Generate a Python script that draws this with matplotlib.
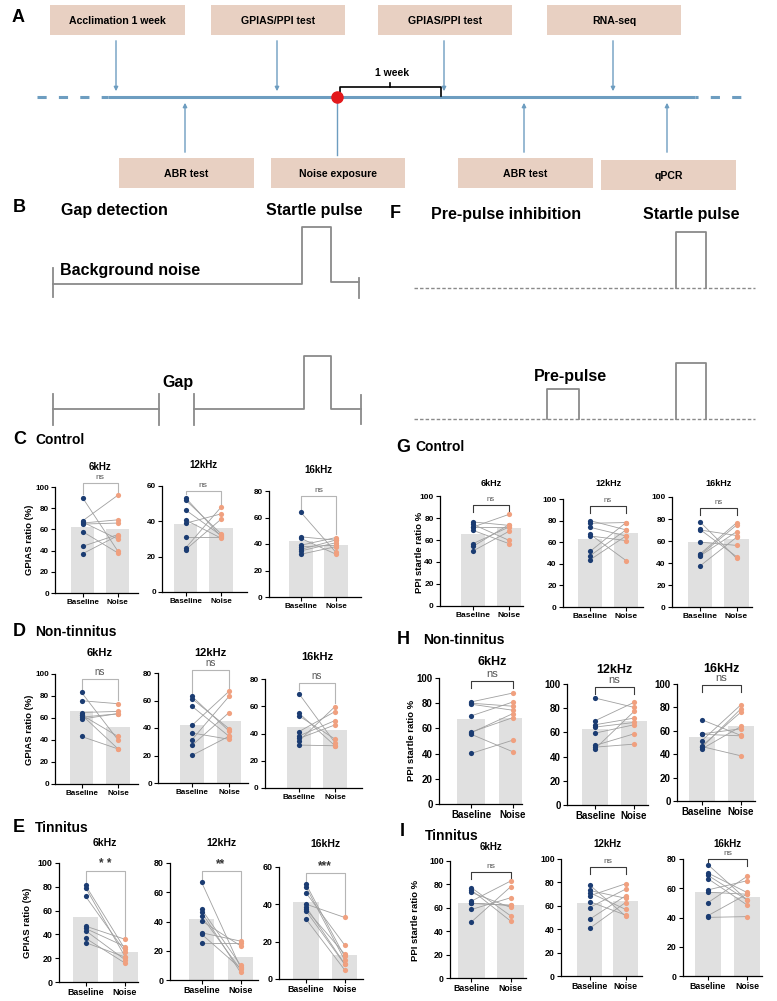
import numpy as np
import matplotlib
matplotlib.use("Agg")
import matplotlib.pyplot as plt
from matplotlib.patches import Rectangle

plt.rcParams['font.family'] = ['Liberation Sans', 'DejaVu Sans']

# ---------------- data ----------------
groups = ['Baseline', 'Noise']
freqs = ['6kHz', '12kHz', '16kHz']

# C  Control (GPIAS)
C_base = [[90, 68, 67, 66, 65, 58, 44, 37],
          [53.4, 52.1, 46.5, 40.8, 38.9, 31.4, 24.8, 23.9],
          [63.8, 45.4, 44.2, 39.1, 37.9, 34.8, 32.3, 36]]
C_noise = [[40, 92, 51, 69, 66, 38, 55, 54],
           [31.5, 33, 32, 30.5, 44.2, 31.4, 48, 41.2],
           [33.6, 42.9, 32.3, 44.9, 39.1, 41, 38, 43]]
C_bars = [[62, 60], [38.4, 36.5], [42.4, 39.1]]
C_sig = ['ns', 'ns', 'ns']

# D  Non-tinnitus (GPIAS)
D_base = [[83.3, 75.7, 65, 62.9, 60.8, 59, 43.2, 63],
          [63, 61.3, 55.8, 41.9, 36.4, 31.5, 27.4, 20.1],
          [69.2, 54.9, 52.9, 41.4, 38.2, 36.4, 34.5, 31.5]]
D_noise = [[40.1, 73, 66, 43.2, 63.8, 64, 31.9, 32],
           [37.8, 39.5, 34, 66.7, 31.8, 63, 51.2, 34],
           [33.2, 31, 35.9, 56.1, 49.5, 46.3, 59.8, 31]]
D_bars = [[66, 51.4], [41.9, 44.8], [44.6, 42.6]]
D_sig = ['ns', 'ns', 'ns']

# E  Tinnitus (GPIAS)
E_base = [[81.3, 79.4, 72.1, 47, 45, 43.2, 36.8, 33.1],
          [67, 48.4, 46.6, 43.6, 40.5, 32.3, 31.4, 25.5],
          [50.8, 49.3, 46.2, 40.1, 38.7, 37.3, 32.1, 36.5]]
E_noise = [[27.6, 21.4, 25.6, 35.9, 29.8, 18.7, 15.9, 21],
           [8.6, 10.2, 5.2, 7.3, 23.4, 26.6, 8, 25.5],
           [12.1, 10.3, 18.3, 33, 8.2, 13.5, 5, 8]]
E_bars = [[54.3, 25.1], [42, 15.9], [41.4, 13]]
E_sig = ['* *', '**', '***']

# G  Control (PPI)
G_base = [[76.4, 74.2, 71.8, 68.8, 56.7, 54.2, 50, 72],
          [80, 77.5, 73.8, 67.4, 65.8, 51.4, 47.4, 43.7],
          [77.4, 70.5, 59, 48.2, 46.4, 37.3, 47, 70]]
G_noise = [[73.3, 59.7, 83.3, 56.7, 71.8, 74, 67.9, 72],
           [71.4, 78.2, 65.8, 43, 61.5, 78.2, 71.4, 65.8],
           [44.3, 45.8, 56, 76.5, 68.4, 63.3, 74.4, 65]]
G_bars = [[65.8, 70.9], [63, 68.3], [59.3, 61.7]]
G_sig = ['ns', 'ns', 'ns']

# H  Non-tinnitus (PPI)
H_base = [[81, 79.2, 80, 69.9, 56.5, 55.4, 40.1, 57],
          [88.4, 69.6, 66.3, 64.4, 59.4, 49.2, 47.8, 46.4],
          [69.4, 57.4, 51.7, 47.1, 46, 44.6, 46.5, 57]]
H_noise = [[88.1, 74.4, 77.6, 81, 71.8, 41.4, 50.7, 68.6],
           [80.7, 84.8, 71.8, 68.2, 66.3, 58.8, 50.3, 77.3],
           [56, 61.7, 82.3, 76, 78.9, 63.7, 38.6, 55.7]]
H_bars = [[67.3, 68.3], [63, 69.6], [54.3, 63.7]]
H_sig = ['ns', 'ns', 'ns']

# I  Tinnitus (PPI)
I_base = [[77.1, 75.1, 73.1, 65.7, 63.7, 58.6, 48, 64],
          [77.9, 73.1, 71.3, 68.5, 63.6, 58.5, 48.4, 40.7],
          [76.1, 70.4, 68.8, 66.5, 58.9, 57.3, 50.2, 41.3, 40.1]]
I_noise = [[53.1, 48.6, 60.3, 82.9, 62.3, 68.6, 78, 62],
           [51.3, 66.5, 57, 78.8, 52.1, 74.2, 68.5, 62.8],
           [52, 57.1, 52, 48.6, 65.1, 55.9, 68.1, 56, 40.6]]
I_bars = [[64.3, 62.3], [62.8, 64.5], [57.3, 54.3]]
I_sig = ['ns', 'ns', 'ns']

ymaxes = {'C': [100, 60, 80], 'D': [100, 80, 80], 'E': [100, 80, 60],
          'G': [100, 100, 100], 'H': [100, 100, 100], 'I': [100, 100, 80]}

# timeline (panel A)
top_steps = ['Acclimation 1 week', 'GPIAS/PPI test', 'GPIAS/PPI test', 'RNA-seq']
bottom_steps = ['ABR test', 'Noise exposure', 'ABR test', 'qPCR']

# ---------------- styles ----------------
W, H = 777, 1001
fig = plt.figure(figsize=(W / 100, H / 100), dpi=100)

bar_c = '#e0e0e0'
base_c = '#1b3c72'
noise_c = '#f0a07f'
link_c = '#a0a0a0'
tl_c = '#6d9dc0'
box_c = '#e8d0c2'
sch_c = '#8a8a8a'

ov = fig.add_axes([0, 0, 1, 1])
ov.set_xlim(0, W)
ov.set_ylim(H, 0)
ov.axis('off')

# ---- panel A ----
ov.text(12, 17, 'A', fontsize=13, fontweight='bold', va='center')
top_x = [(50, 185), (211, 345), (378, 512), (547, 681)]
bot_x = [(119, 254), (271, 405), (458, 593), (601, 736)]
for (x0, x1), s in zip(top_x, top_steps):
    ov.add_patch(Rectangle((x0, 5), x1 - x0, 30, color=box_c, lw=0))
    ov.text((x0 + x1) / 2, 21, s, ha='center', va='center', fontsize=7.6, fontweight='bold')
    xa = x0 + 66
    ov.annotate('', xy=(xa, 94), xytext=(xa, 38),
                arrowprops=dict(arrowstyle='-|>', color=tl_c, lw=1, mutation_scale=6))
for i, ((x0, x1), s) in enumerate(zip(bot_x, bottom_steps)):
    yb = 158 if i < 3 else 160
    ov.add_patch(Rectangle((x0, yb), x1 - x0, 30, color=box_c, lw=0))
    ov.text((x0 + x1) / 2, yb + 16, s, ha='center', va='center', fontsize=7.6, fontweight='bold')
    xa = x0 + 66
    if i == 1:
        ov.plot([xa, xa], [155, 99], color=tl_c, lw=1)
    else:
        ov.annotate('', xy=(xa, 100), xytext=(xa, 155),
                    arrowprops=dict(arrowstyle='-|>', color=tl_c, lw=1, mutation_scale=6))
ov.plot([108, 695], [97, 97], color=tl_c, lw=2.2, solid_capstyle='butt')
ov.plot([37, 108], [97, 97], color=tl_c, lw=2.2, ls=(0, (3, 4)))
ov.plot([695, 748], [97, 97], color=tl_c, lw=2.2, ls=(2, (3, 4)))
ov.plot([337], [97], 'o', color='#e3191c', ms=8, zorder=5)
ov.plot([340, 340, 441, 441], [96, 87, 87, 96], color='k', lw=1.2)
ov.plot([390, 390], [87, 83], color='k', lw=1.2)
ov.text(392, 73, '1 week', ha='center', va='center', fontsize=7.5, fontweight='bold')

# ---- panel B ----
ov.text(13, 207, 'B', fontsize=13, fontweight='bold', va='center')
ov.text(61, 211, 'Gap detection', fontsize=11.5, fontweight='bold', va='center')
ov.text(266, 211, 'Startle pulse', fontsize=11.5, fontweight='bold', va='center')
ov.text(60, 270, 'Background noise', fontsize=11.5, fontweight='bold', va='center')
ov.text(178, 383, 'Gap', fontsize=11.5, fontweight='bold', va='center', ha='center')
ov.plot([53, 53], [268, 297], color=sch_c, lw=1.3)
ov.plot([53, 302, 302, 331, 331, 359], [284, 284, 227, 227, 282, 282], color=sch_c, lw=1.3)
ov.plot([359, 359], [278, 298], color=sch_c, lw=1.3)
ov.plot([53, 53], [394, 425], color=sch_c, lw=1.3)
ov.plot([53, 159], [409, 409], color=sch_c, lw=1.3)
ov.plot([159, 159], [394, 425], color=sch_c, lw=1.3)
ov.plot([194, 194], [394, 425], color=sch_c, lw=1.3)
ov.plot([194, 304, 304, 331, 331, 361], [409, 409, 356, 356, 409, 409], color=sch_c, lw=1.3)
ov.plot([361, 361], [395, 424], color=sch_c, lw=1.3)

# ---- panel F ----
ov.text(390, 214, 'F', fontsize=13, fontweight='bold', va='center')
ov.text(431, 214, 'Pre-pulse inhibition', fontsize=11.5, fontweight='bold', va='center')
ov.text(643, 214, 'Startle pulse', fontsize=11.5, fontweight='bold', va='center')
ov.plot([414, 755], [288, 288], color=sch_c, lw=1, ls=(0, (2.5, 1.5)))
ov.plot([676, 676, 706, 706], [288, 232, 232, 288], color=sch_c, lw=1.3)
ov.plot([414, 755], [419, 419], color=sch_c, lw=1, ls=(0, (2.5, 1.5)))
ov.plot([547, 547, 579, 579], [419, 389, 389, 419], color=sch_c, lw=1.3)
ov.plot([676, 676, 706, 706], [419, 363, 363, 419], color=sch_c, lw=1.3)
ov.text(570, 377, 'Pre-pulse', fontsize=11.5, fontweight='bold', va='center', ha='center')


# ---------------- bar / paired panels ----------------
def draw_sub(lay, ymax, base, noise, bars, sig, title, fs_tick, fs_title, ppi):
    L, R, ybot, ytop, cb, cn, bw, ty, by = lay
    ax = fig.add_axes([L / W, 1 - ybot / H, (R - L) / W, (ybot - ytop) / H])
    u = 1.0 / (cn - cb)
    ax.set_xlim((L - cb) * u, (R - cb) * u)
    ax.set_ylim(0, ymax)
    pv = lambda yp: (ybot - yp) / (ybot - ytop) * ymax
    ax.bar([0, 1], bars, width=bw * u, color=bar_c, zorder=1)
    for b, n in zip(base, noise):
        ax.plot([0, 1], [b, n], color=link_c, lw=0.6, zorder=2)
    ax.scatter(np.zeros(len(base)), base, s=14, color=base_c, zorder=3, clip_on=False, lw=0)
    ax.scatter(np.ones(len(noise)), noise, s=14, color=noise_c, zorder=3, clip_on=False, lw=0)
    yb = pv(by)
    if ppi:
        leg = pv(by + 7)
        ax.plot([0, 0, 1, 1], [leg, yb, yb, leg], color='#3a3a3a', lw=0.8, clip_on=False)
    else:
        g = ymax * 0.03
        ax.plot([0, 0, 1, 1], [max(base) + g, yb, yb, max(noise) + g],
                color='#b5b5b5', lw=0.8, clip_on=False)
    star = '*' in sig
    ax.text(0.5, yb + ymax * (0.005 if star else 0.015), sig, ha='center', va='bottom',
            fontsize=fs_title + (1 if star else -1), color='#333333' if star else '#555555',
            fontweight='bold' if star else 'normal')
    ax.text(0.5, pv(ty), title, ha='center', va='center', fontsize=fs_title, fontweight='bold')
    ax.set_xticks([0, 1])
    ax.set_xticklabels(groups)
    ax.set_yticks(np.arange(0, ymax + 1, 20))
    ax.tick_params(axis='both', labelsize=fs_tick, width=0.8, length=3, pad=1.5)
    for lbl in ax.get_xticklabels() + ax.get_yticklabels():
        lbl.set_fontweight('bold')
    for s in ['top', 'right']:
        ax.spines[s].set_visible(False)
    for s in ['left', 'bottom']:
        ax.spines[s].set_linewidth(0.9)
    return ax


# (left, right, y0 pixel, ytop pixel, baseline centre, noise centre, bar width, title y, bracket y)
layouts = {
    'C': [(55, 138, 593, 487, 82.5, 117.5, 23, 467, 483),
          (162, 247, 592, 486, 185.5, 221, 23.5, 465, 491),
          (269, 361, 597, 491, 301, 336, 24, 470, 496)],
    'G': [(440, 523, 606, 496, 473, 509, 24, 483, 505),
          (563, 643, 607, 499, 590, 626, 24, 484, 506),
          (672, 752, 607, 497, 700, 736.5, 24.5, 484, 508)],
    'D': [(55, 138, 784, 674, 81.5, 118, 23.5, 653, 679),
          (158, 248, 783, 673, 192, 229, 24, 653, 670),
          (265, 362, 788, 679, 299, 335, 24, 657, 683)],
    'H': [(439, 522, 804, 678, 471, 513, 28, 662, 681),
          (567, 648, 805, 684, 595, 634, 26, 670, 687),
          (677, 755, 801, 684, 702, 741, 26, 669, 685)],
    'E': [(59, 138, 982, 863, 85.5, 125, 25, 843, 871),
          (170, 258, 980, 863, 201.5, 240.5, 25, 843, 871),
          (279, 363, 979, 867, 306, 344.5, 25.5, 844, 873)],
    'I': [(450, 526, 978, 861, 471.5, 510.7, 27, 847, 872),
          (561, 642, 976, 859, 589.5, 625.5, 25, 844, 867),
          (683, 762, 976, 859, 708, 747, 25.5, 844, 859)],
}
panel_data = {'C': (C_base, C_noise, C_bars, C_sig), 'D': (D_base, D_noise, D_bars, D_sig),
              'E': (E_base, E_noise, E_bars, E_sig), 'G': (G_base, G_noise, G_bars, G_sig),
              'H': (H_base, H_noise, H_bars, H_sig), 'I': (I_base, I_noise, I_bars, I_sig)}
fonts = {'C': (5.8, 7), 'D': (5.8, 8), 'E': (6.4, 7.5), 'G': (6, 6.5), 'H': (7, 9), 'I': (6.3, 7)}

for key in 'CDEGHI':
    b, n, bars, sig = panel_data[key]
    for k in range(3):
        draw_sub(layouts[key][k], ymaxes[key][k], b[k], n[k], bars[k], sig[k], freqs[k],
                 fonts[key][0], fonts[key][1], key in 'GHI')

# panel headers
headers = [('C', 13, 440, 35, 'Control'), ('D', 13, 632, 35, 'Non-tinnitus'),
           ('E', 13, 828, 35, 'Tinnitus'), ('G', 396, 447, 415, 'Control'),
           ('H', 397, 640, 423, 'Non-tinnitus'), ('I', 400, 831, 425, 'Tinnitus')]
for letter, lx, ly, tx, txt in headers:
    fig.text(lx / W, 1 - ly / H, letter, fontsize=13, fontweight='bold', va='center')
    fig.text(tx / W, 1 - (ly + (5 if letter == 'I' else 0)) / H, txt, fontsize=10,
             fontweight='bold', va='center')

# y labels
ylabs = [(29, 540, 'GPIAS ratio (%)'), (30, 730, 'GPIAS ratio (%)'), (28, 923, 'GPIAS ratio (%)'),
         (419, 552, 'PPI startle ratio %'), (412, 740, 'PPI startle ratio %'),
         (416, 920, 'PPI startle ratio %')]
for x, y, s in ylabs:
    fig.text(x / W, 1 - y / H, s, rotation=90, ha='center', va='center',
             fontsize=6.8, fontweight='bold')

fig.savefig('out.png', dpi=100)
